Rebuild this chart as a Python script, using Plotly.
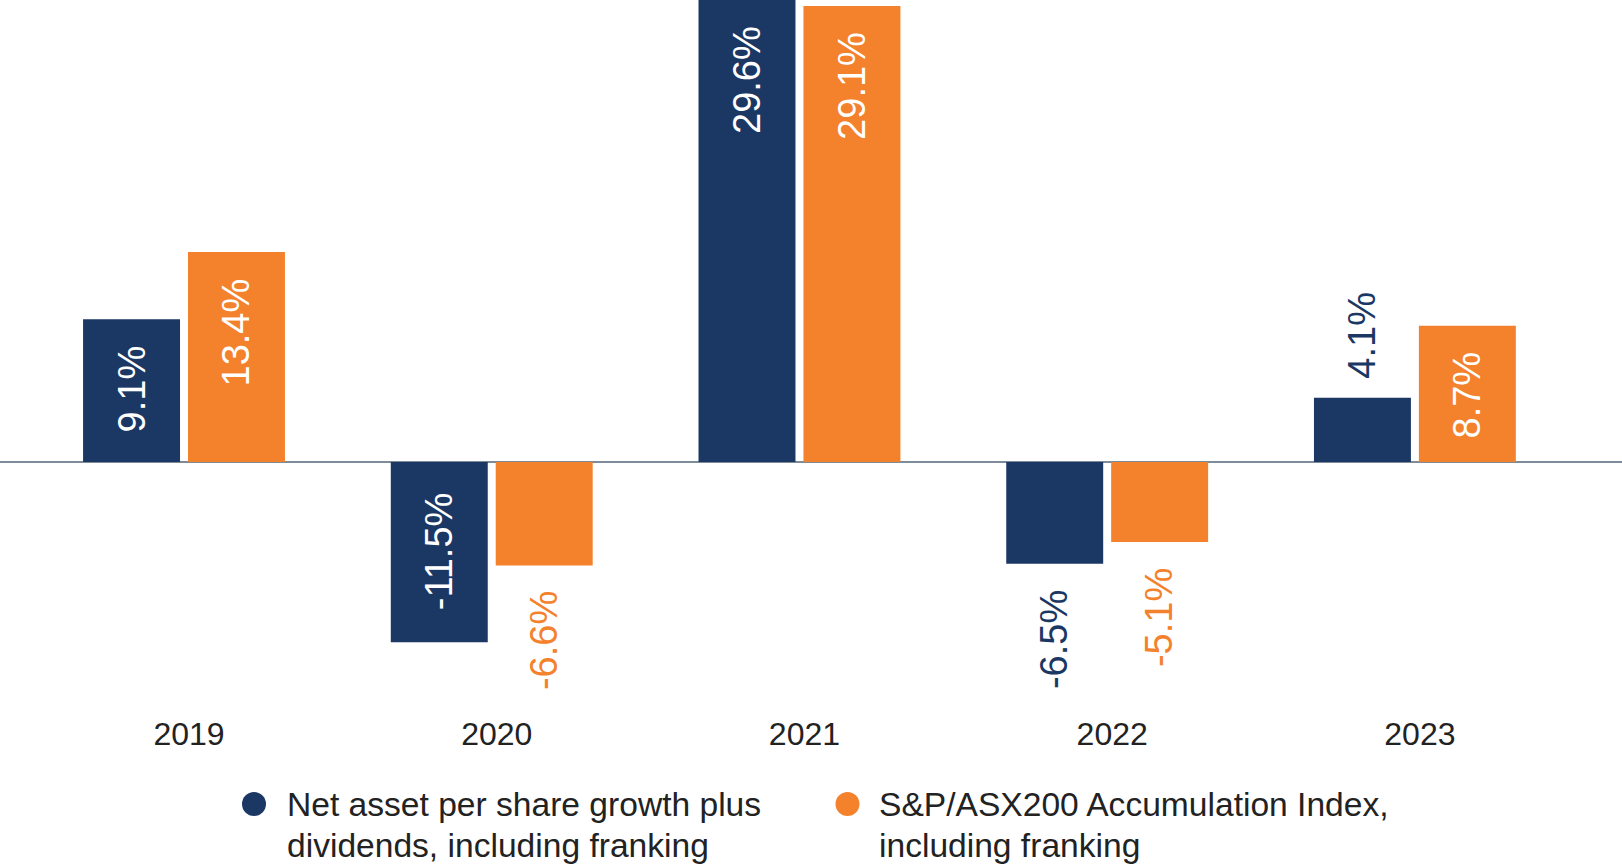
import plotly.graph_objects as go

# ---------------- data ----------------
years = ["2019", "2020", "2021", "2022", "2023"]
nav_growth = [9.1, -11.5, 29.6, -6.5, 4.1]
asx200_index = [13.4, -6.6, 29.1, -5.1, 8.7]
series_names = [
    "Net asset per share growth plus dividends, including franking",
    "S&P/ASX200 Accumulation Index, including franking",
]
legend_lines = [
    ["Net asset per share growth plus", "dividends, including franking"],
    ["S&P/ASX200 Accumulation Index,", "including franking"],
]

# ---------------- style ----------------
NAVY = "#1b3764"
ORANGE = "#f4812c"
TEXT = "#222222"
FONT = "Liberation Sans, Arial, Helvetica, sans-serif"
W, H = 1622, 864
PLOT_H = 700
Y_MAX = 29.48
Y_MIN = -15.19
X_RANGE = [-0.598, 4.673]
BARGAP = 0.318
GROUPGAP = 0.076
LABEL_SIZE = 38

fig = go.Figure()
colors = [NAVY, ORANGE]
all_series = [nav_growth, asx200_index]
for name, vals, col in zip(series_names, all_series, colors):
    fig.add_trace(go.Bar(
        x=years, y=vals, name=name,
        marker=dict(color=col, line=dict(width=0)),
        showlegend=False, hoverinfo="x+y+name",
    ))

# value labels
offset = (1 - BARGAP) / 4
annotations = []
for s, (vals, col) in enumerate(zip(all_series, colors)):
    for i, v in enumerate(vals):
        xpos = i - offset if s == 0 else i + offset
        inside = abs(v) >= 8
        if inside:
            fcol = "white"
            if v > 0:
                y, yanchor, yshift = min(v, Y_MAX), "top", -24
            else:
                y, yanchor, yshift = 0, "top", -28
        else:
            fcol = col
            if v > 0:
                y, yanchor, yshift = v, "bottom", 17
            else:
                y, yanchor, yshift = v, "top", -24
        annotations.append(dict(
            x=xpos, y=y, xref="x", yref="y", text=f"{v:.1f}%",
            showarrow=False, textangle=-90, xanchor="center", yanchor=yanchor,
            yshift=yshift, font=dict(family=FONT, size=LABEL_SIZE, color=fcol),
        ))

# legend (custom, to match circle size and line spacing)
def py(p):
    return (PLOT_H - p) / PLOT_H

legend_circle_x = [254, 847.5]
legend_text_x = [285, 877]
shapes = []
for k, col in enumerate(colors):
    shapes.append(dict(
        type="circle", xref="paper", yref="paper",
        xsizemode="pixel", ysizemode="pixel",
        xanchor=legend_circle_x[k] / W, yanchor=py(804),
        x0=-12, x1=12, y0=-12, y1=12,
        fillcolor=col, line=dict(width=0),
    ))
    for j, line in enumerate(legend_lines[k]):
        annotations.append(dict(
            x=legend_text_x[k] / W, y=py(804 + 41 * j), xref="paper", yref="paper",
            text=line, showarrow=False, xanchor="left", yanchor="middle",
            font=dict(family=FONT, size=33.6, color=TEXT),
        ))

fig.update_layout(
    width=W, height=H,
    margin=dict(l=0, r=0, t=0, b=H - PLOT_H, pad=0),
    paper_bgcolor="white", plot_bgcolor="white",
    barmode="group", bargap=BARGAP, bargroupgap=GROUPGAP,
    font=dict(family=FONT, color=TEXT),
    annotations=annotations, shapes=shapes,
    showlegend=False,
)
fig.update_xaxes(
    range=X_RANGE, showgrid=False, zeroline=False, showline=False,
    ticks="", tickfont=dict(family=FONT, size=32, color=TEXT),
    ticklabelstandoff=12, ticklabelshift=5,
)
fig.update_yaxes(
    range=[Y_MIN, Y_MAX], showgrid=False, showticklabels=False, ticks="",
    zeroline=True, zerolinecolor="#7e8b98", zerolinewidth=2, showline=False,
)

fig.write_html(
    "out.html",
    config={"displayModeBar": False},
    post_script="document.body.style.margin='0px';document.body.style.overflow='hidden';",
)
